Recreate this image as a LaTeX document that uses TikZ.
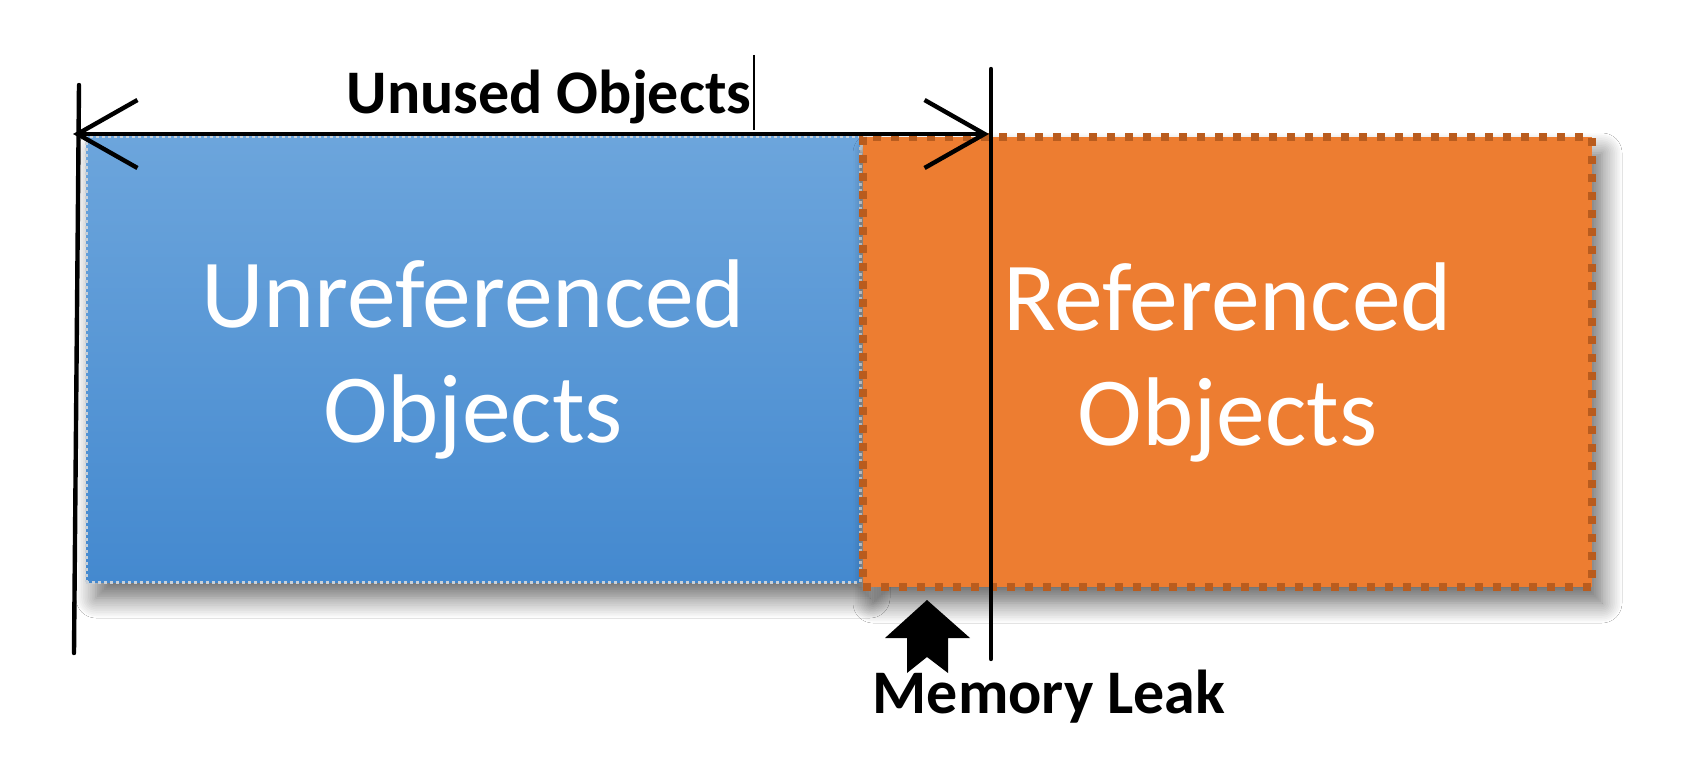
\documentclass[tikz,border=0pt]{standalone}
\usepackage{fontspec}
\setmainfont{Carlito}
\usetikzlibrary{shadows.blur,arrows.meta}
\definecolor{bluetop}{RGB}{108,165,220}
\definecolor{bluebot}{RGB}{68,137,207}
\definecolor{bluedot}{RGB}{200,208,216}
\definecolor{orfill}{RGB}{237,125,49}
\definecolor{ordot}{RGB}{185,92,30}
\begin{document}
\begin{tikzpicture}[x=0.5pt,y=-0.5pt,
  shadowed/.style={blur shadow={shadow xshift=5pt,shadow yshift=-8pt,shadow blur radius=10pt,shadow blur steps=12,shadow opacity=60}},
  bigtext/.style={text=white,align=center,font=\fontsize{48.8}{57.5}\selectfont},
  blockbox/.style={shadowed,bigtext,inner sep=0pt},
  dimline/.style={line width=2.2pt,black,line cap=round},
  labeltext/.style={font=\bfseries\fontsize{31}{36}\selectfont,inner sep=0pt}]
\useasboundingbox (0,0) rectangle (1691,775);
\fill[white] (0,0) rectangle (1691,775);
% boxes
\node[blockbox,top color=bluetop,bottom color=bluebot,draw=bluedot,line width=1.5pt,
  dash pattern=on 1.5pt off 1.5pt,minimum width=387pt,minimum height=222.5pt]
  (unref) at (473,359.5) {Unreferenced\\Objects};
\node[blockbox,fill=orfill,draw=ordot,line width=3.8pt,dash pattern=on 4pt off 5pt,
  minimum width=364.5pt,minimum height=225pt]
  (ref) at (1227.5,362) {Referenced\\Objects};
% dimension lines
\coordinate (lt) at (79,85);
\coordinate (lb) at (74,653);
\coordinate (rt) at (991,69);
\coordinate (rb) at (991,659);
\coordinate (al) at (73,134);
\coordinate (ar) at (989,134);
\coordinate (tt) at (754,55);
\coordinate (tb) at (754,130);
\draw[dimline] (lt) -- (lb);
\draw[dimline] (rt) -- (rb);
\draw[dimline,{Straight Barb[length=30pt,width=34pt]}-{Straight Barb[length=30pt,width=34pt]}] (al) -- (ar);
\draw[line width=0.75pt] (tt) -- (tb);
% labels
\node[labeltext,anchor=base] (unused) at (549,114) {Unused Objects};
\node[labeltext,anchor=base] (leak) at (1049,713) {Memory Leak};
% block arrow
\fill[black] (927,600) -- (970,638) -- (948,638) -- (948,673) -- (927,657)
  -- (907,673) -- (907,638) -- (885,638) -- cycle;
\end{tikzpicture}
\end{document}
